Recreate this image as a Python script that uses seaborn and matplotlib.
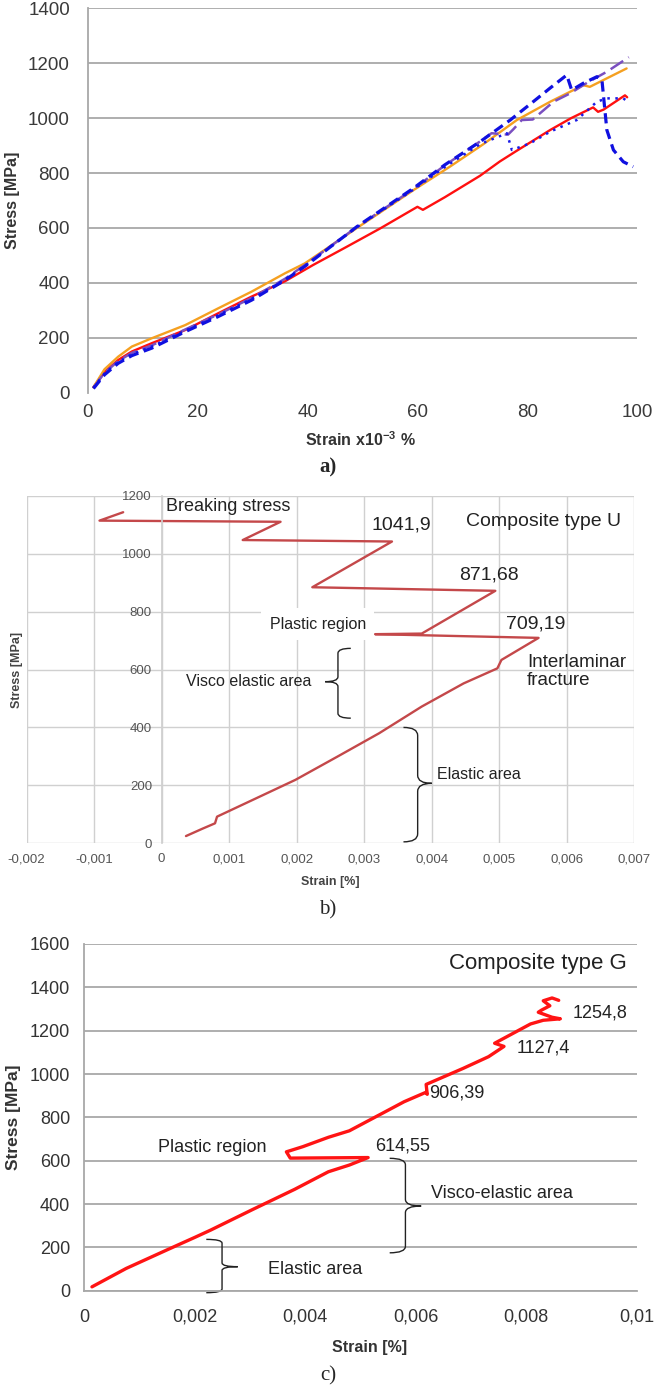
import matplotlib
matplotlib.use("Agg")
import matplotlib.pyplot as plt
from matplotlib.path import Path
from matplotlib.patches import PathPatch
import seaborn as sns

sns.set_theme(style="white")
plt.rcParams["font.family"] = ["Liberation Sans", "DejaVu Sans"]
plt.rcParams["mathtext.fontset"] = "custom"
plt.rcParams["mathtext.rm"] = "Liberation Sans"
plt.rcParams["mathtext.bf"] = "Liberation Sans:bold"

# ---------------- (a) stress-strain curves of five specimens ----------------
a_red_x = [1, 3, 5.5, 8, 11.6, 17.7, 23.7, 29.8, 35.9, 41, 47, 53.2, 60, 61, 65, 71.4, 75, 78, 84.2, 88, 92, 92.9, 93.9, 97.8, 98.2]
a_red_y = [20, 75, 119, 150, 180, 228, 289, 350, 406, 465, 530, 598, 677, 666, 712, 790, 842, 880, 957, 1000, 1039, 1023, 1031, 1083, 1076]

a_orange_x = [1, 3, 5.5, 8, 11.6, 17.7, 23.7, 29.8, 35.9, 39.5, 49, 59.3, 65.9, 72, 78.1, 84.2, 90.2, 91.4, 98.1]
a_orange_y = [20, 85, 131, 168, 198, 246, 307, 368, 435, 471, 600, 738, 823, 905, 993, 1060, 1120, 1114, 1181]

a_dash_x = [1, 3, 5.5, 8, 11.6, 17.7, 23.7, 29.8, 35.9, 39.5, 49, 59.3, 65, 71.4, 76.9, 81.1, 84.2, 87.2, 88.1, 90.2, 92.7, 93.6, 94.5, 95.7, 97.5, 99.3]
a_dash_y = [15, 65, 107, 135, 162, 222, 277, 337, 410, 460, 605, 745, 830, 914, 993, 1060, 1110, 1157, 1102, 1127, 1151, 1140, 957, 884, 841, 823]

a_dot_x = [1, 3, 5.5, 8, 11.6, 17.7, 23.7, 29.8, 35.9, 39.5, 49, 59.3, 65, 71.4, 76.3, 77.2, 80.5, 84.2, 89, 92.7, 94.5, 97.5, 98.1]
a_dot_y = [18, 70, 112, 140, 168, 226, 282, 342, 412, 462, 603, 740, 822, 905, 945, 884, 908, 951, 993, 1060, 1072, 1072, 1063]

a_purple_x = [1, 3, 5.5, 8, 11.6, 17.7, 23.7, 29.8, 35.9, 39.5, 49, 59.3, 65, 71.4, 73.5, 76.5, 77.5, 79, 81, 84.8, 87.8, 91, 94.5, 98.5]
a_purple_y = [18, 72, 115, 145, 172, 230, 285, 345, 415, 465, 604, 742, 828, 915, 945, 940, 960, 993, 995, 1060, 1090, 1130, 1169, 1222]

a_yticks = [0, 200, 400, 600, 800, 1000, 1200, 1400]
a_xticks = [0, 20, 40, 60, 80, 100]

# ---------------- (b) composite type U ----------------
b_x = [0.00036, 0.0006, 0.00079, 0.00082, 0.00135, 0.00198, 0.0026, 0.00322, 0.00385, 0.00447,
       0.00497, 0.00503, 0.00558, 0.00316, 0.00385, 0.00494, 0.00223, 0.00341, 0.0012, 0.00176,
       -0.00092, -0.00057]
b_y = [25, 50, 69, 92, 150, 219, 299, 380, 472, 552,
       604, 633, 709.19, 722, 724, 871.68, 884, 1041.9, 1047, 1110,
       1114, 1143]
b_yticks = [0, 200, 400, 600, 800, 1000, 1200]
b_xticks = [-0.002, -0.001, 0, 0.001, 0.002, 0.003, 0.004, 0.005, 0.006, 0.007]
b_xlabels = ["-0,002", "-0,001", "0", "0,001", "0,002", "0,003", "0,004", "0,005", "0,006", "0,007"]

# ---------------- (c) composite type G ----------------
c_x = [0.00014, 0.00076, 0.00152, 0.002, 0.00229, 0.00305, 0.00381, 0.00442, 0.0048, 0.00514,
       0.00373, 0.00366, 0.00396, 0.00442, 0.0048, 0.00534, 0.00579, 0.00618, 0.00621, 0.00619,
       0.00686, 0.00732, 0.0076, 0.00743, 0.00808, 0.00831, 0.00862, 0.00847, 0.00822,
       0.00828, 0.00843, 0.00831, 0.00847, 0.00859]
c_y = [18, 103, 191, 246, 280, 375, 468, 549, 580, 614.55,
       612, 641, 665, 708, 738, 811, 872, 915, 906.39, 952,
       1026, 1080, 1127.4, 1142, 1231, 1248, 1254.8, 1262, 1285,
       1295, 1315, 1338, 1351, 1340]
c_yticks = [0, 200, 400, 600, 800, 1000, 1200, 1400, 1600]
c_xticks = [0, 0.002, 0.004, 0.006, 0.008, 0.01]
c_xlabels = ["0", "0,002", "0,004", "0,006", "0,008", "0,01"]


def brace(ax, x_base, x_tip, y0, y1, y_tip, color="#222222", lw=1.0):
    """Curly brace spanning y0..y1, pointing towards x_tip."""
    xm = x_base + 0.5 * (x_tip - x_base)
    r = (y1 - y0) * 0.07
    verts = [(x_base, y1), (xm, y1), (xm, y1 - r),
             (xm, y_tip + r), (xm, y_tip), (x_tip, y_tip),
             (xm, y_tip), (xm, y_tip - r),
             (xm, y0 + r), (xm, y0), (x_base, y0)]
    codes = [Path.MOVETO, Path.CURVE3, Path.CURVE3,
             Path.LINETO, Path.CURVE3, Path.CURVE3,
             Path.CURVE3, Path.CURVE3,
             Path.LINETO, Path.CURVE3, Path.CURVE3]
    ax.add_patch(PathPatch(Path(verts, codes), fill=False, edgecolor=color,
                           lw=lw, clip_on=False))


fig = plt.figure(figsize=(6.56, 13.87), dpi=100)
fig.patch.set_facecolor("white")

# ======================= panel (a) =======================
ax = fig.add_axes([0.1341, 0.7169, 0.837, 0.2771])
series = [
    (a_red_x, a_red_y, "#ff1010", 1.7, None),
    (a_orange_x, a_orange_y, "#f5a020", 1.7, None),
    (a_purple_x, a_purple_y, "#7a4fc0", 1.8, (6, 2.5)),
    (a_dot_x, a_dot_y, "#1a1ae6", 1.8, (1, 2.2)),
    (a_dash_x, a_dash_y, "#1010e0", 2.3, (3.2, 1.8)),
]
for xs, ys, col, lw, dash in series:
    sns.lineplot(x=xs, y=ys, sort=False, estimator=None, color=col, lw=lw, ax=ax)
    line = ax.lines[-1]
    if dash is not None:
        line.set_dashes(dash)
    line.set_solid_capstyle("round")
ax.set_xlim(0, 100)
ax.set_ylim(0, 1400)
ax.set_yticks(a_yticks)
ax.set_xticks(a_xticks)
ax.yaxis.grid(True, color="#a8a8a8", lw=1.3)
ax.get_ygridlines()[0].set_visible(False)
for s in ["top", "right", "bottom"]:
    ax.spines[s].set_visible(False)
ax.spines["left"].set_color("#a8a8a8")
ax.spines["left"].set_linewidth(1.3)
ax.tick_params(axis="y", length=0, pad=13, labelsize=13.5, labelcolor="#3a3a3a")
ax.tick_params(axis="x", length=3, width=1, color="#c8c8c8", pad=8, labelsize=13.5,
               labelcolor="#3a3a3a", direction="in")
ax.set_ylabel("Stress [MPa]", fontsize=11.5, fontweight="bold", color="#333333")
ax.yaxis.set_label_coords(-0.124, 0.5)
ax.set_xlabel(r"$\mathbf{Strain\ x10^{-3}\ \%}$", fontsize=11.5, color="#333333")
ax.xaxis.set_label_coords(0.497, -0.097)
fig.text(0.5, 1 - 467 / 1387, "a)", ha="center", va="center", fontsize=15,
         fontweight="bold", family="Liberation Serif")

# ======================= panel (b) =======================
ax = fig.add_axes([0.0405, 0.392, 0.9267, 0.2506])
sns.lineplot(x=b_x, y=b_y, sort=False, estimator=None, color="#c4484a", lw=1.7, ax=ax)
ax.set_xlim(-0.002, 0.007)
ax.set_ylim(0, 1200)
ax.set_yticks(b_yticks)
ax.set_xticks(b_xticks)
ax.set_xticklabels(b_xlabels)
ax.grid(True, color="#d0d0d0", lw=1.0)
for s in ["top", "right", "bottom"]:
    ax.spines[s].set_visible(False)
ax.spines["left"].set_position(("data", 0))
ax.spines["left"].set_color("#d0d0d0")
ax.tick_params(axis="both", length=0, labelsize=9.5, labelcolor="#555555")
ax.tick_params(axis="y", pad=7)
ax.tick_params(axis="x", pad=7)
ax.set_ylabel("Stress [MPa]", fontsize=9, fontweight="bold", color="#444444")
ax.yaxis.set_label_coords(-0.006, 0.5)
ax.set_xlabel("Strain [%]", fontsize=9, fontweight="bold", color="#444444")
ax.xaxis.set_label_coords(0.5, -0.094)

ax.text(0.00006, 1162, "Breaking stress", fontsize=13, va="center", color="#222222")
ax.text(0.0045, 1110, "Composite type U", fontsize=14, va="center", color="#222222")
ax.text(0.0031, 1099, "1041,9", fontsize=14, va="center", color="#222222")
ax.text(0.00441, 926, "871,68", fontsize=14, va="center", color="#222222")
ax.text(0.0051, 757, "709,19", fontsize=14, va="center", color="#222222")
ax.text(0.0016, 757, "Plastic region", fontsize=11.5, va="center", color="#222222",
        bbox=dict(facecolor="white", edgecolor="none", pad=6))
ax.text(0.00541, 593, "Interlaminar\nfracture", fontsize=13.5, va="center",
        color="#222222", linespacing=1.1)
ax.text(0.00036, 558, "Visco elastic area", fontsize=11.5, va="center", color="#222222")
ax.text(0.00407, 236, "Elastic area", fontsize=11.5, va="center", color="#222222")
brace(ax, 0.0028, 0.00242, 432, 673, 558)
brace(ax, 0.00358, 0.004, 5, 400, 207)
fig.text(0.5, 1 - 910 / 1387, "b)", ha="center", va="center", fontsize=15,
         family="Liberation Serif")

# ======================= panel (c) =======================
ax = fig.add_axes([0.1284, 0.0694, 0.842, 0.25])
sns.lineplot(x=c_x, y=c_y, sort=False, estimator=None, color="#ff1414", lw=2.4, ax=ax)
ax.lines[-1].set_solid_joinstyle("round")
ax.set_xlim(0, 0.01)
ax.set_ylim(0, 1600)
ax.set_yticks(c_yticks)
ax.set_xticks(c_xticks)
ax.set_xticklabels(c_xlabels)
ax.yaxis.grid(True, color="#a8a8a8", lw=1.3)
for s in ["top", "right"]:
    ax.spines[s].set_visible(False)
for s in ["left", "bottom"]:
    ax.spines[s].set_color("#a8a8a8")
    ax.spines[s].set_linewidth(1.3)
ax.tick_params(axis="both", length=5, width=1.2, color="#a8a8a8", labelsize=13,
               labelcolor="#333333")
ax.tick_params(axis="y", pad=5)
ax.tick_params(axis="x", pad=8)
ax.set_ylabel("Stress [MPa]", fontsize=12.5, fontweight="bold", color="#333333")
ax.yaxis.set_label_coords(-0.114, 0.5)
ax.set_xlabel("Strain [%]", fontsize=11.5, fontweight="bold", color="#333333")
ax.xaxis.set_label_coords(0.516, -0.142)

ax.text(0.00983, 1511, "Composite type G", fontsize=16, va="center", ha="right", color="#222222")
ax.text(0.00884, 1280, "1254,8", fontsize=13, va="center", color="#222222")
ax.text(0.00783, 1122, "1127,4", fontsize=13, va="center", color="#222222")
ax.text(0.00625, 911, "906,39", fontsize=13, va="center", color="#222222")
ax.text(0.00526, 668, "614,55", fontsize=13, va="center", color="#222222")
ax.text(0.00133, 662, "Plastic region", fontsize=13, va="center", color="#222222")
ax.text(0.00627, 449, "Visco-elastic area", fontsize=13, va="center", color="#222222")
ax.text(0.00333, 98, "Elastic area", fontsize=13, va="center", color="#222222")
brace(ax, 0.00553, 0.0061, 175, 611, 391)
brace(ax, 0.00221, 0.00278, -9, 237, 111)
fig.text(0.5, 1 - 1376 / 1387, "c)", ha="center", va="center", fontsize=15,
         family="Liberation Serif")

fig.savefig("out.png", dpi=100, facecolor="white")
